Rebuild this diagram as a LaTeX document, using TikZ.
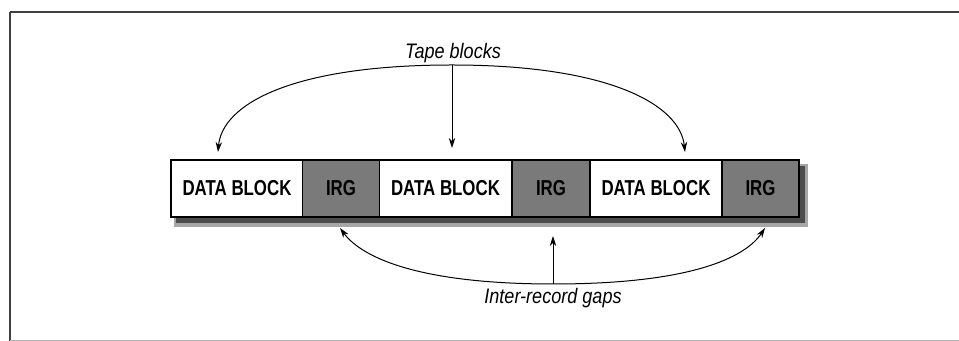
\documentclass[tikz,border=0pt]{standalone}
\usepackage{fontspec}
\setmainfont{Liberation Sans}
\newfontfamily\blockfont{Liberation Sans}[FakeStretch=0.78]
\newfontfamily\labelfont{Liberation Sans}[FakeStretch=0.86]
\usetikzlibrary{arrows.meta}

\tikzset{
  datablock/.style={draw=black, line width=0.9pt, fill=white, minimum width=66pt,
    minimum height=28.5pt, inner sep=0pt, font=\blockfont\bfseries\fontsize{10.8}{12}\selectfont},
  gapblock/.style={datablock, fill=black!52, minimum width=38.5pt},
  tapelabel/.style={font=\labelfont\itshape\fontsize{10.5}{12}\selectfont, inner sep=1pt},
  pointer/.style={line width=0.5pt, -{Stealth[length=5pt,width=3.2pt]}}
}

\begin{document}
\begin{tikzpicture}[x=0.5pt, y=-0.5pt]
    \useasboundingbox (0,0) rectangle (959,341);
    % frame
    \draw[black!75, line width=1.4pt] (10,12) -- (959,12);
    \draw[black!75, line width=0.8pt] (10,12) -- (10,341);
    \draw[black!30, line width=0.4pt] (10,340) -- (959,340);

    % shadow under the tape
    \fill[black!35] (174,164) rectangle (808,227);
    \fill[black!70] (176,166) rectangle (805,223);

    % the tape
    \node[datablock] (db1)  at (237,188.5)   {DATA BLOCK};
    \node[gapblock]  (irg1) at (341,188.5)   {IRG};
    \node[datablock] (db2)  at (445.5,188.5) {DATA BLOCK};
    \node[gapblock]  (irg2) at (551,188.5)   {IRG};
    \node[datablock] (db3)  at (656,188.5)   {DATA BLOCK};
    \node[gapblock]  (irg3) at (760.5,188.5) {IRG};

    % tape blocks
    \node[tapelabel] (tapelbl) at (453,53) {Tape blocks};
    \coordinate (ttop) at (452,65);
    \coordinate (tb1) at (218,152);
    \coordinate (tb2) at (452,148);
    \coordinate (tb3) at (685,152);
    \draw[pointer] (ttop) .. controls (290,65) and (222,105) .. (tb1);
    \draw[pointer] (ttop) -- (tb2);
    \draw[pointer] (ttop) .. controls (610,65) and (680,105) .. (tb3);

    % inter-record gaps
    \node[tapelabel] (gaplbl) at (553,298) {Inter-record gaps};
    \coordinate (gbot) at (553,284);
    \coordinate (ig1) at (340,228);
    \coordinate (ig2) at (553,236);
    \coordinate (ig3) at (765,228);
    \draw[pointer] (gbot) .. controls (420,284) and (362,258) .. (ig1);
    \draw[pointer] (gbot) -- (ig2);
    \draw[pointer] (gbot) .. controls (690,284) and (745,258) .. (ig3);
\end{tikzpicture}
\end{document}
